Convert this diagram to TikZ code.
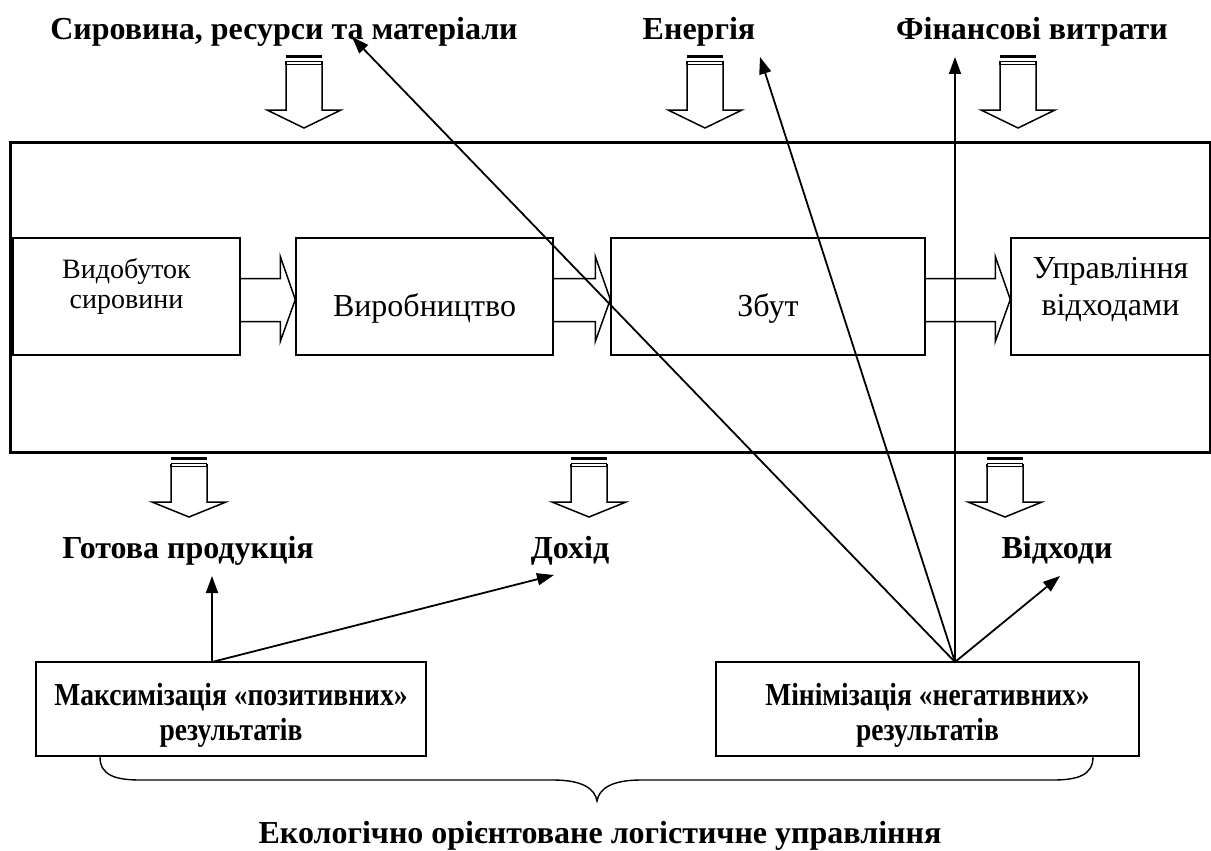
\documentclass[tikz,border=0pt]{standalone}
\usepackage{fontspec}
\usepackage{graphicx}
\setmainfont{Liberation Serif}
\usetikzlibrary{arrows.meta,calc}
\begin{document}
\begin{tikzpicture}[x=1pt,y=-1pt,
  lbl/.style={font=\fontsize{32}{36}\selectfont\bfseries, inner sep=0pt, anchor=base},
  rbox/.style={draw, line width=1.4pt, inner sep=0pt},
  stage/.style={rbox, minimum height=117pt},
  stxt/.style={font=\fontsize{32}{36}\selectfont, inner sep=0pt, anchor=base},
  goalbox/.style={rbox, minimum height=94pt},
  gtxt/.style={font=\fontsize{32}{36}\selectfont\bfseries, inner sep=0pt, anchor=base},
  thin/.style={line width=1.8pt, -{Triangle[length=17pt,width=12pt]}},
  blk/.style={draw, line width=1.5pt, line join=miter},
  pics/blkdown/.style args={#1/#2}{code={
    \fill (-18,0) rectangle (18,3);
    \draw[line width=1.1pt] (-18,6.5) -- (18,6.5);
    \draw[blk] (-18,6.5) -- (-18,9.5) -- (18,9.5) -- (18,6.5);
    \draw[blk] (-18,9.5) -- (-18,#1) -- (-37,#1) -- (0,#2) -- (37,#1) -- (18,#1) -- (18,9.5);
  }}
]
\path[use as bounding box] (0,0) rectangle (1211,851);

% top labels
\node[lbl] (raw) at (284,40) {Сировина, ресурси та матеріали};
\node[lbl] (energy) at (699,40) {Енергія};
\node[lbl] (fin) at (1032,40) {Фінансові витрати};

% top block arrows
\pic at (304,55) {blkdown={55/73}};
\pic at (705,55) {blkdown={55/73}};
\pic at (1018,55) {blkdown={55/73}};

% outer frame
\node[draw, line width=3pt, minimum width=1200pt, minimum height=310pt, inner sep=0pt] (frame) at (610,297) {};

% stages
\node[stage, minimum width=227pt] (b1) at (126.5,296.5) {};
\node[stage, minimum width=257pt] (b2) at (424.5,296.5) {};
\node[stage, minimum width=314pt] (b3) at (768,296.5) {};
\node[stage, minimum width=199pt] (b4) at (1110.5,296.5) {};
\node[stxt, font=\fontsize{28}{32}\selectfont] (t1a) at (126.5,278) {Видобуток};
\node[stxt, font=\fontsize{28}{32}\selectfont] (t1b) at (126.5,308) {сировини};
\node[stxt] (t2) at (424.5,316) {Виробництво};
\node[stxt] (t3) at (768,316) {Збут};
\node[stxt] (t4a) at (1110.5,278) {Управління};
\node[stxt] (t4b) at (1110.5,315) {відходами};

% block arrows between stages
\foreach \a/\b in {b1/b2, b2/b3, b3/b4}{
  \draw[blk] let \p1=(\a.east), \p2=(\b.west) in
    (\x1,\y1+18pt) -- (\x2-15pt,\y1+18pt) -- (\x2-15pt,\y1+40pt) -- (\x2,\y1-3pt)
    -- (\x2-15pt,\y1-45pt) -- (\x2-15pt,\y1-25pt) -- (\x1,\y1-25pt);
}

% bottom block arrows
\pic at (189,457) {blkdown={45/60}};
\pic at (589,457) {blkdown={45/60}};
\pic at (1005,457) {blkdown={45/60}};

% bottom labels
\node[lbl] (prod) at (188,558) {Готова продукція};
\node[lbl] (income) at (570,558) {Дохід};
\node[lbl] (waste) at (1057,558) {Відходи};

% goal boxes
\node[goalbox, minimum width=390pt] (maxb) at (231,709) {};
\node[goalbox, minimum width=423pt] (minb) at (927.5,709) {};
\node[gtxt] (maxa) at (231,705) {\scalebox{0.86}[1]{Максимізація «позитивних»}};
\node[gtxt] (maxc) at (231,740) {\scalebox{0.86}[1]{результатів}};
\node[gtxt] (mina) at (927.5,705) {\scalebox{0.86}[1]{Мінімізація «негативних»}};
\node[gtxt] (minc) at (927.5,740) {\scalebox{0.86}[1]{результатів}};

% thin arrows
\coordinate (p1) at (212,662);
\coordinate (p2) at (955,662);
\coordinate (tprod) at (212,576);
\coordinate (tinc) at (554,575);
\coordinate (twaste) at (1060,576);
\coordinate (tfin) at (955,57);
\coordinate (tene) at (760,57);
\coordinate (traw) at (352,37);
\draw[thin] (p1) -- (tprod);
\draw[thin] (p1) -- (tinc);
\draw[thin] (p2) -- (twaste);
\draw[thin] (p2) -- (tfin);
\draw[thin] (p2) -- (tene);
\draw[thin] (p2) -- (traw);

% brace
\coordinate (bl) at (100,757);
\coordinate (br) at (1093,757);
\coordinate (btip) at (597,801);
\draw[line width=1.4pt] (bl) .. controls (100,775) and (115,780) .. (140,780) -- (553,780)
  .. controls (583,780) and (595,789) .. (btip)
  .. controls (599,789) and (611,780) .. (641,780) -- (1053,780)
  .. controls (1078,780) and (1093,775) .. (br);

\node[lbl] (eco) at (600,843) {Екологічно орієнтоване логістичне управління};
\end{tikzpicture}
\end{document}
